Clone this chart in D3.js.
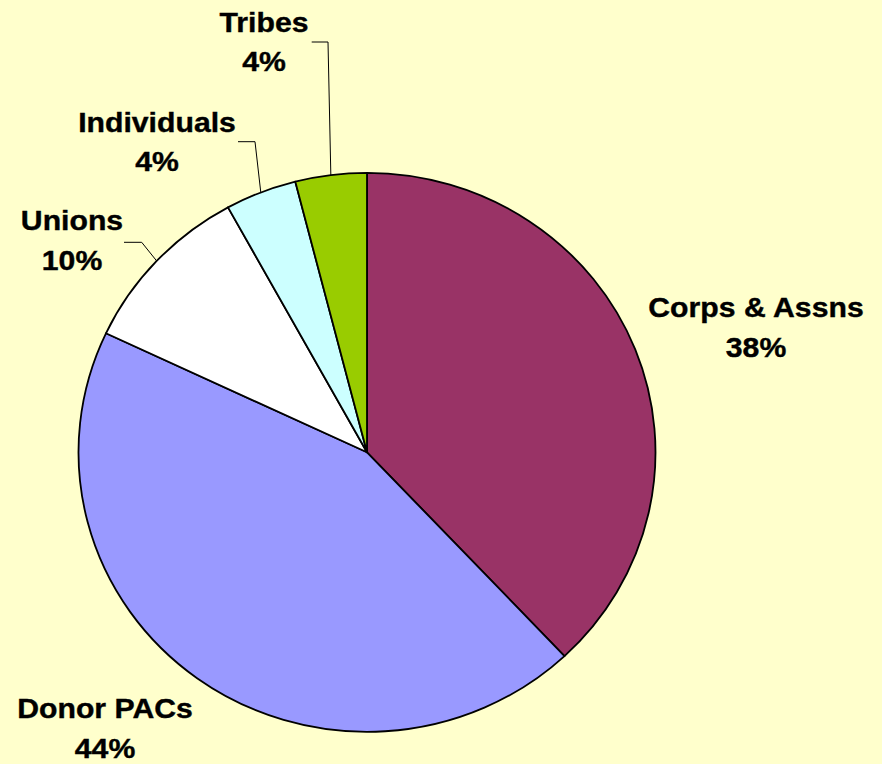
<!DOCTYPE html>
<html>
<head>
<meta charset="utf-8">
<script src="https://cdn.jsdelivr.net/npm/d3@7"></script>
<style>
  html, body { margin: 0; padding: 0; background: #FFFFCC; }
  svg { display: block; }
</style>
</head>
<body>
<div id="chart"></div>
<script>
// data
var categories = ['Corps & Assns', 'Donor PACs', 'Unions', 'Individuals', 'Tribes'];
var shares = [38, 44, 10, 4, 4];
var colors = ['#993366', '#9999FF', '#FFFFFF', '#CCFFFF', '#99CC00'];

var width = 882, height = 764;
var cx = 367, cy = 452.3;
var ry = 279.5, rx = 288.5;   // pie is slightly stretched horizontally

// label layout: text centre x, baseline of first line, and leader elbow (null = no leader)
var labelLayout = [
  {x: 756, y: 317, elbow: null},
  {x: 105, y: 718, elbow: null},
  {x: 72, y: 230, elbow: [141.7, 242.3], end: 124},
  {x: 157, y: 131.5, elbow: [255, 141.7], end: 238},
  {x: 264, y: 31.5, elbow: [328, 42], end: 311.7}
];

var rows = categories.map(function (c, i) {
  return {name: c, value: shares[i], color: colors[i]};
});

var pie = d3.pie()
  .sort(null)
  .value(function (d) { return d.value; });

var arcs = pie(rows);

var arc = d3.arc()
  .innerRadius(0)
  .outerRadius(ry);

var svg = d3.select('#chart')
  .append('svg')
  .attr('width', width)
  .attr('height', height);

svg.append('rect')
  .attr('width', width)
  .attr('height', height)
  .attr('fill', '#FFFFCC');

var g = svg.append('g')
  .attr('transform', 'translate(' + cx + ',' + cy + ') scale(' + (rx / ry) + ',1)');

g.selectAll('path.slice')
  .data(arcs)
  .enter()
  .append('path')
  .attr('class', 'slice')
  .attr('d', arc)
  .attr('fill', function (d) { return d.data.color; })
  .attr('stroke', '#000')
  .attr('stroke-width', 1.8)
  .attr('stroke-linejoin', 'round')
  .attr('vector-effect', 'non-scaling-stroke');

// leader lines from the slice edge (mid angle) to the label
arcs.forEach(function (d, i) {
  var L = labelLayout[i];
  if (!L.elbow) return;
  var a = (d.startAngle + d.endAngle) / 2;
  var sx = cx + rx * Math.sin(a);
  var sy = cy - ry * Math.cos(a);
  svg.append('path')
    .attr('d', 'M' + sx + ',' + sy + 'L' + L.elbow[0] + ',' + L.elbow[1] + 'L' + L.end + ',' + L.elbow[1])
    .attr('fill', 'none')
    .attr('stroke', '#000')
    .attr('stroke-width', 1);
});

var labels = svg.selectAll('text.lbl')
  .data(arcs)
  .enter()
  .append('text')
  .attr('class', 'lbl')
  .attr('text-anchor', 'middle')
  .style('font-family', '"Liberation Sans", Arial, sans-serif')
  .style('font-weight', 'bold')
  .style('font-size', '28.5px')
  .attr('fill', '#000')
  .attr('stroke', '#000')
  .attr('stroke-width', 0.4)
  .attr('transform', function (d, i) {
    return 'translate(' + labelLayout[i].x + ',' + labelLayout[i].y + ') scale(1.06,1)';
  });

labels.append('tspan')
  .attr('x', 0)
  .attr('y', 0)
  .text(function (d) { return d.data.name; });

labels.append('tspan')
  .attr('x', 0)
  .attr('y', 40)
  .text(function (d) { return d.data.value + '%'; });
</script>
</body>
</html>
